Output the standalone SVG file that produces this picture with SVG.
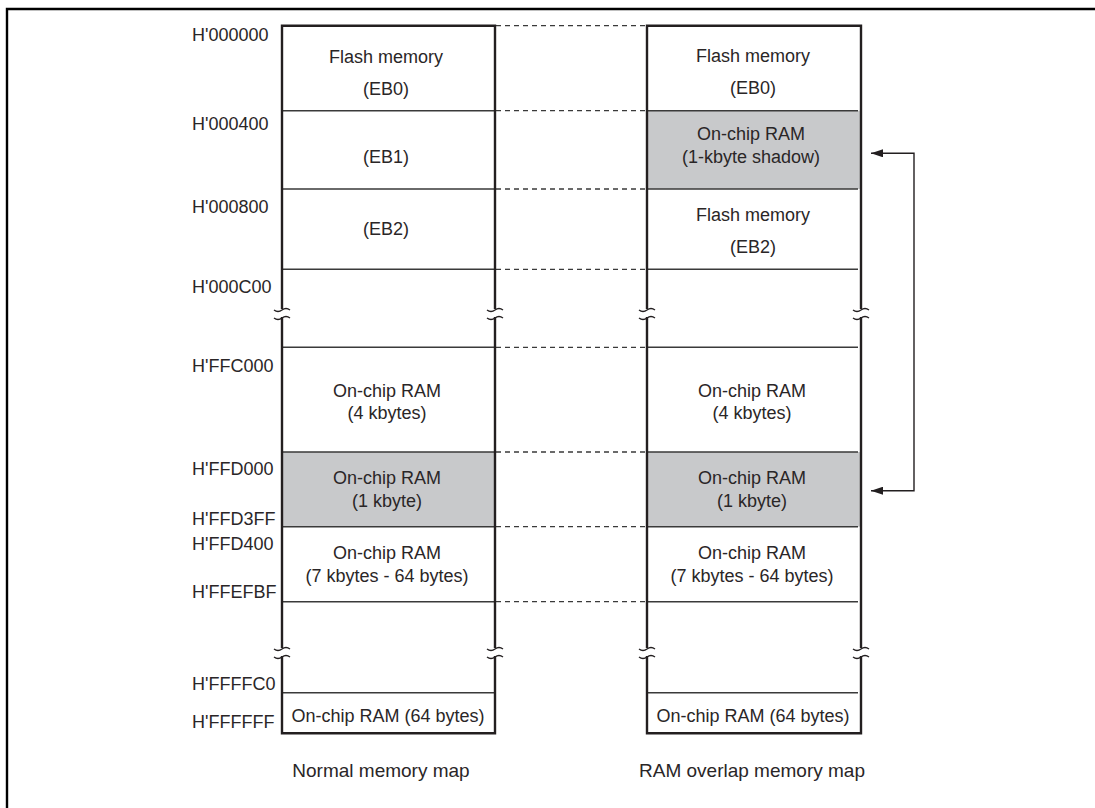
<svg xmlns="http://www.w3.org/2000/svg" width="1095" height="808" viewBox="0 0 1095 808">
<style>
text{font-family:"Liberation Sans",Arial,sans-serif;font-size:18px;fill:#2a2627}
.c{text-anchor:middle}
.t{font-size:19px}
.edge{stroke:#231f20;stroke-width:2.4;fill:none}
.inner{stroke:#3a3a3a;stroke-width:1.4;fill:none}
.gray{fill:#c8c9cb;stroke:none}
.dash{stroke:#3a3a3a;stroke-width:1.3;stroke-dasharray:5 4;fill:none}
.brk{stroke:#231f20;stroke-width:1.4;fill:none}
.conn{stroke:#231f20;stroke-width:1.4;fill:none}
</style>
<defs>
<marker id="ah" markerUnits="userSpaceOnUse" markerWidth="12" markerHeight="8" refX="12" refY="4" orient="auto-start-reverse">
<path d="M0,0 L12,4 L0,8 z" fill="#231f20"/>
</marker>
<g id="brkSym">
<rect x="-9" y="-4" width="18" height="8" fill="#fff"/>
<path class="brk" d="M-8,-3 q4,3 8,0 t8,0 M-8,5 q4,3 8,0 t8,0"/>
</g>
</defs>
<rect width="1095" height="808" fill="#fff"/>
<path d="M7,808 V9 H1095" stroke="#000" stroke-width="2.4" fill="none"/>

<g id="connectors">
<path class="dash" d="M496,25.7 H646 M496,110.7 H646 M496,189 H646 M496,269.3 H646 M496,347.3 H646 M496,452 H646 M496,526.7 H646 M496,601.7 H646"/>
<path class="conn" d="M871,153.3 H914 V490.7 H871" marker-start="url(#ah)" marker-end="url(#ah)"/>
</g>

<g id="normal-map">
<rect class="gray" x="282" y="452" width="213" height="74.7"/>
<path class="inner" d="M282,110.7 H495 M282,189 H495 M282,269.3 H495 M282,347.3 H495 M282,452 H495 M282,526.7 H495 M282,601.7 H495 M282,692.7 H495"/>
<path class="edge" d="M282,25.7 H495 M282,733.3 H495 M282,24.5 V734.5 M495,24.5 V734.5"/>
<use href="#brkSym" x="282" y="313"/>
<use href="#brkSym" x="495" y="313"/>
<use href="#brkSym" x="282" y="652"/>
<use href="#brkSym" x="495" y="652"/>
</g>

<g id="overlap-map">
<rect class="gray" x="647" y="110.7" width="214" height="78.3"/>
<rect class="gray" x="647" y="452" width="214" height="74.7"/>
<path class="inner" d="M647,110.7 H858 M647,189 H858 M647,269.3 H858 M647,347.3 H858 M647,452 H858 M647,526.7 H858 M647,601.7 H858 M647,692.7 H858"/>
<path class="edge" d="M647,25.7 H861 M647,733.3 H861 M647,24.5 V734.5 M861,24.5 V734.5"/>
<use href="#brkSym" x="647" y="313"/>
<use href="#brkSym" x="861" y="313"/>
<use href="#brkSym" x="647" y="652"/>
<use href="#brkSym" x="861" y="652"/>
</g>

<g id="addresses">
<text x="192" y="40.7">H'000000</text>
<text x="192" y="130">H'000400</text>
<text x="192" y="213.3">H'000800</text>
<text x="192" y="293.3">H'000C00</text>
<text x="192" y="371.7">H'FFC000</text>
<text x="192" y="475">H'FFD000</text>
<text x="192" y="525">H'FFD3FF</text>
<text x="192" y="550">H'FFD400</text>
<text x="192" y="598.3">H'FFEFBF</text>
<text x="192" y="690">H'FFFFC0</text>
<text x="192" y="728.3">H'FFFFFF</text>
</g>

<g id="n-eb0"><text class="c" x="386" y="63">Flash memory</text><text class="c" x="386" y="95">(EB0)</text></g>
<g id="n-eb1"><text class="c" x="386" y="163.3">(EB1)</text></g>
<g id="n-eb2"><text class="c" x="386" y="235">(EB2)</text></g>
<g id="n-ram4"><text class="c" x="387" y="397">On-chip RAM</text><text class="c" x="387" y="419.3">(4 kbytes)</text></g>
<g id="n-ram1"><text class="c" x="387" y="484">On-chip RAM</text><text class="c" x="387" y="506.7">(1 kbyte)</text></g>
<g id="n-ram7"><text class="c" x="387" y="559">On-chip RAM</text><text class="c" x="387" y="581.7">(7 kbytes - 64 bytes)</text></g>
<g id="n-ram64"><text class="c" x="388" y="721.7">On-chip RAM (64 bytes)</text></g>
<g id="n-title"><text class="c t" x="381" y="776.7">Normal memory map</text></g>

<g id="o-eb0"><text class="c" x="753" y="62.3">Flash memory</text><text class="c" x="753" y="94">(EB0)</text></g>
<g id="o-shadow"><text class="c" x="751" y="140">On-chip RAM</text><text class="c" x="751" y="163.3">(1-kbyte shadow)</text></g>
<g id="o-eb2"><text class="c" x="753" y="220.7">Flash memory</text><text class="c" x="753" y="253.3">(EB2)</text></g>
<g id="o-ram4"><text class="c" x="752" y="397">On-chip RAM</text><text class="c" x="752" y="419.3">(4 kbytes)</text></g>
<g id="o-ram1"><text class="c" x="752" y="484">On-chip RAM</text><text class="c" x="752" y="506.7">(1 kbyte)</text></g>
<g id="o-ram7"><text class="c" x="752" y="559">On-chip RAM</text><text class="c" x="752" y="581.7">(7 kbytes - 64 bytes)</text></g>
<g id="o-ram64"><text class="c" x="753" y="721.7">On-chip RAM (64 bytes)</text></g>
<g id="o-title"><text class="c t" x="752" y="776.7">RAM overlap memory map</text></g>
</svg>
